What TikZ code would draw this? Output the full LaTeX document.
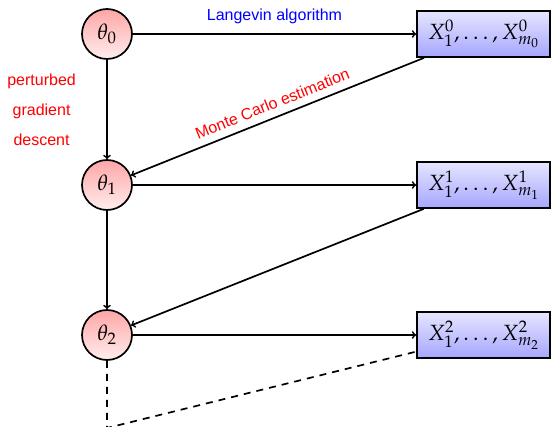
\documentclass[tikz,border=0pt]{standalone}
\usepackage{mathpazo}
\usepackage[no-math]{fontspec}
\setsansfont{Liberation Sans}
\begin{document}
\begin{tikzpicture}[x=1pt,y=-1pt,
  theta/.style={circle, draw, line width=1.7pt, minimum size=50pt, inner sep=0pt,
    top color=red!35, bottom color=red!7, font=\fontsize{22}{26}\selectfont},
  xbox/.style={rectangle, draw, line width=1.7pt, minimum height=46pt, minimum width=133pt,
    inner sep=0pt, top color=blue!10, bottom color=blue!35, font=\fontsize{22}{26}\selectfont},
  conn/.style={line width=1.7pt, ->},
  dconn/.style={line width=1.7pt, dash pattern=on 7pt off 6pt},
  lab/.style={font=\sffamily\fontsize{16}{30}\selectfont}]
\useasboundingbox (0,0) rectangle (553,427);
\node[theta] (t0) at (107,34) {$\theta_0$};
\node[theta] (t1) at (107,185) {$\theta_1$};
\node[theta] (t2) at (107,335) {$\theta_2$};
\node[xbox] (x0) at (483.5,34) {$X_1^0,\ldots,X_{m_0}^0$};
\node[xbox] (x1) at (483.5,185) {$X_1^1,\ldots,X_{m_1}^1$};
\node[xbox] (x2) at (483.5,335) {$X_1^2,\ldots,X_{m_2}^2$};
\coordinate (dend) at (107,428);
\draw[conn] (t0) -- node[midway, above=6pt, lab, text=blue] {Langevin algorithm} (x0);
\draw[conn] (t1) -- (x1);
\draw[conn] (t2) -- (x2);
\draw[conn, <-] (t1) -- node[midway, sloped, above=4pt, lab, text=red] {Monte Carlo estimation} (x0);
\draw[conn, <-] (t2) -- (x1);
\draw[conn] (t0) -- node[midway, left=27pt, lab, text=red, align=center] {perturbed\\gradient\\descent} (t1);
\draw[conn] (t1) -- (t2);
\draw[dconn] (t2) -- (dend) -- (x2);
\end{tikzpicture}
\end{document}
